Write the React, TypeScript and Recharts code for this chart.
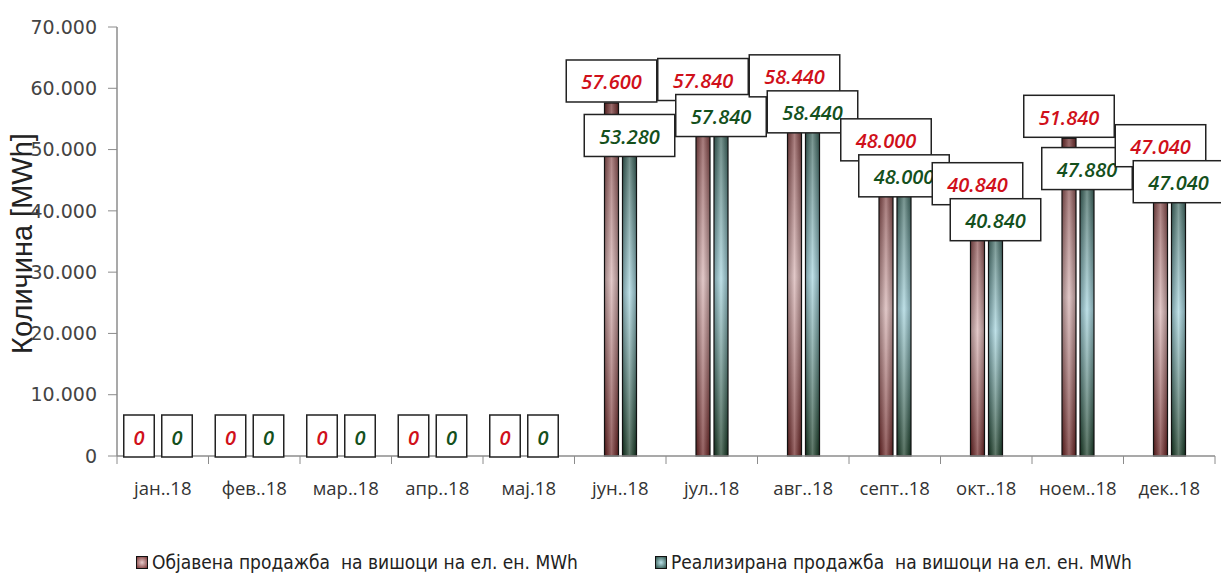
import React from 'react';
import { BarChart, Bar, XAxis, YAxis, LabelList } from 'recharts';

const months = ['јан..18', 'фев..18', 'мар..18', 'апр..18', 'мај.18', 'јун..18', 'јул..18', 'авг..18', 'септ..18', 'окт..18', 'ноем..18', 'дек..18'];
const objavena = [0, 0, 0, 0, 0, 57600, 57840, 58440, 48000, 40840, 51840, 47040];
const realizirana = [0, 0, 0, 0, 0, 53280, 57840, 58440, 48000, 40840, 47880, 47040];
const yTicks = [0, 10000, 20000, 30000, 40000, 50000, 60000, 70000];

const seriesNames = [
  'Објавена продажба  на вишоци на ел. ен. MWh',
  'Реализирана продажба  на вишоци на ел. ен. MWh',
];

const data = months.map((m, i) => ({ month: m, objavena: objavena[i], realizirana: realizirana[i] }));

const W = 1221;
const H = 576;
const LEFT = 117;
const RIGHT = 6;
const TOP = 27;
const BOTTOM = 120;
const BAND = (W - LEFT - RIGHT) / months.length;
const Y_MAX = 70000;
const PX_PER_UNIT = (H - TOP - BOTTOM) / Y_MAX;
const BAR_SIZE = 14;
const BAR_GAP = 4;

const fmt = (v: number) => (v === 0 ? '0' : v.toLocaleString('de-DE'));

const labelFont = '"Open Sans", "DejaVu Sans", sans-serif';

function textWidth(s: string) {
  let w = 0;
  for (const c of s) w += c === '.' ? 6 : 13.5;
  return w + 17;
}

function Box({ cx, cy, text, color }: { cx: number; cy: number; text: string; color: string }) {
  const w = textWidth(text);
  const h = 42;
  return (
    <g>
      <rect x={cx - w / 2} y={cy - h / 2} width={w} height={h} fill="#fff" stroke="#222" strokeWidth={1.5} />
      <text
        x={cx}
        y={cy + 1}
        textAnchor="middle"
        dominantBaseline="central"
        fontFamily={labelFont}
        fontStyle="italic"
        fontWeight={600}
        fontSize={20}
        fill={color}
      >
        {text}
      </text>
    </g>
  );
}

// both series' labels are drawn from the second bar so they sit above all bars
const pairLabel = (p: any) => {
  const { x, y, width, height, value, index } = p;
  const bottom = y + height;
  const red = objavena[index];
  const redX = x - BAR_SIZE - BAR_GAP + width / 2;
  const greenX = x + width / 2;
  let redBox;
  let greenBox;
  let redCy = bottom - 20;
  if (!red) {
    redBox = <Box cx={redX - 15} cy={redCy} text="0" color="#d0101a" />;
  } else {
    redCy = bottom - red * PX_PER_UNIT - 22;
    redBox = <Box cx={redX} cy={redCy} text={fmt(red)} color="#d0101a" />;
  }
  if (!value) {
    greenBox = <Box cx={greenX + 5} cy={bottom - 20} text="0" color="#14501c" />;
  } else {
    const cy = Math.max(y + 6, redCy + 36);
    greenBox = <Box cx={greenX} cy={cy} text={fmt(value)} color="#14501c" />;
  }
  return (
    <g>
      {redBox}
      {greenBox}
    </g>
  );
};

const gradBar = (vid: string) => (p: any) => {
  const { x, y, width, height } = p;
  if (!height || height <= 0) return null;
  return (
    <g>
      <rect x={x} y={y} width={width} height={height} fill={`url(#${vid})`} />
      <rect x={x} y={y} width={width} height={height} fill="url(#shine)" />
      <rect x={x} y={y} width={width} height={height} fill="none" stroke="#111" strokeWidth={1.2} />
    </g>
  );
};

const XTick = (p: any) => {
  const { x, y, payload, index } = p;
  return (
    <g>
      <text x={x} y={y + 31} textAnchor="middle" dominantBaseline="central" fontFamily={labelFont} fontSize={18.5} fill="#333">
        {payload.value}
      </text>
      <line x1={x - BAND / 2} x2={x - BAND / 2} y1={y} y2={y + 8} stroke="#8c8c8c" />
      {index === months.length - 1 && <line x1={x + BAND / 2} x2={x + BAND / 2} y1={y} y2={y + 8} stroke="#8c8c8c" />}
    </g>
  );
};

const yLabel = (p: any) => {
  const vb = p.viewBox;
  const cy = vb.y + vb.height / 2 + 2;
  return (
    <text
      x={22}
      y={cy}
      transform={`rotate(-90 22 ${cy})`}
      textAnchor="middle"
      dominantBaseline="central"
      fontFamily='"Liberation Sans", Arial, sans-serif'
      fontSize={29}
      fill="#222"
    >
      Количина [MWh]
    </text>
  );
};

const legendFont = '"DejaVu Sans Condensed", "DejaVu Sans", sans-serif';

export default function App() {
  return (
    <div style={{ position: 'absolute', left: 0, top: 0, width: W, height: H, background: '#fff' }}>
      <BarChart
        width={W}
        height={H}
        data={data}
        margin={{ top: TOP, right: RIGHT, left: 0, bottom: BOTTOM - 40 }}
        barSize={BAR_SIZE}
        barGap={BAR_GAP}
      >
        <defs>
          <linearGradient id="redV" x1="0" y1="0" x2="0" y2="1">
            <stop offset="0%" stopColor="#6e2a2a" />
            <stop offset="50%" stopColor="#d6b2b2" />
            <stop offset="100%" stopColor="#6a2222" />
          </linearGradient>
          <linearGradient id="greenV" x1="0" y1="0" x2="0" y2="1">
            <stop offset="0%" stopColor="#234a3e" />
            <stop offset="50%" stopColor="#a4d4de" />
            <stop offset="100%" stopColor="#163a24" />
          </linearGradient>
          <linearGradient id="shine" x1="0" y1="0" x2="1" y2="0">
            <stop offset="0%" stopColor="#000" stopOpacity={0.25} />
            <stop offset="50%" stopColor="#fff" stopOpacity={0.3} />
            <stop offset="100%" stopColor="#000" stopOpacity={0.25} />
          </linearGradient>
        </defs>
        <XAxis
          dataKey="month"
          height={40}
          interval={0}
          axisLine={{ stroke: '#8c8c8c', strokeWidth: 1.5 }}
          tickLine={false}
          tickSize={0}
          tickMargin={0}
          tick={<XTick />}
        />
        <YAxis
          width={LEFT}
          domain={[0, Y_MAX]}
          ticks={yTicks}
          interval={0}
          tickFormatter={fmt}
          axisLine={{ stroke: '#8c8c8c', strokeWidth: 1.5 }}
          tickLine={{ stroke: '#8c8c8c' }}
          tickSize={9}
          tickMargin={11}
          tick={{ fill: '#444', fontSize: 19, fontFamily: '"DejaVu Sans", sans-serif' }}
          label={{ content: yLabel }}
        />
        <Bar dataKey="objavena" name={seriesNames[0]} shape={gradBar('redV')} isAnimationActive={false} />
        <Bar dataKey="realizirana" name={seriesNames[1]} shape={gradBar('greenV')} isAnimationActive={false}>
          <LabelList dataKey="realizirana" content={pairLabel} />
        </Bar>
      </BarChart>
      {[0, 1].map((i) => (
        <div
          key={i}
          style={{
            position: 'absolute',
            top: 551,
            left: i === 0 ? 136 : 655,
            display: 'flex',
            alignItems: 'center',
            fontFamily: legendFont,
            fontStretch: 'condensed',
            fontSize: 19,
            color: '#222',
            whiteSpace: 'pre',
          }}
        >
          <span
            style={{
              display: 'inline-block',
              width: 10,
              height: 11,
              marginRight: 4,
              border: '1px solid #111',
              background: i === 0
                ? 'radial-gradient(circle, #e6caca 0%, #7a3434 100%)'
                : 'radial-gradient(circle, #b8e0e8 0%, #2a5046 100%)',
            }}
          />
          {seriesNames[i]}
        </div>
      ))}
    </div>
  );
}
